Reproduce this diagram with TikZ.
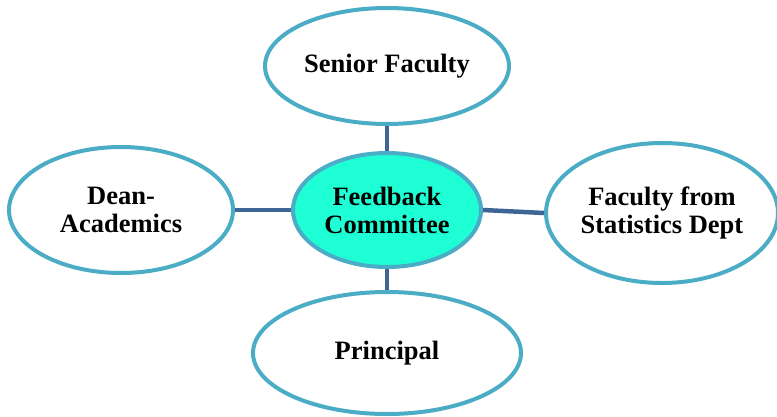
\documentclass[tikz,border=0pt]{standalone}
\usepackage{fontspec}
\setmainfont{Liberation Serif}
\usetikzlibrary{shapes.geometric}
\definecolor{rim}{HTML}{4BACC6}
\definecolor{link}{HTML}{3E6596}
\definecolor{aqua}{HTML}{1EFFD5}
\tikzset{
  bubble/.style={ellipse, draw=rim, line width=4pt, fill=white, inner sep=0pt, align=center,
    font=\bfseries\fontsize{26.5}{28}\selectfont},
  linkline/.style={draw=link, line width=4.5pt}
}
\begin{document}
\begin{tikzpicture}[x=1pt,y=-1pt]
\useasboundingbox (0,0) rectangle (777,416);
\node[bubble, minimum width=244pt, minimum height=116pt] (sf) at (387,66) {Senior Faculty};
\node[bubble, minimum width=224pt, minimum height=126pt] (da) at (121,210) {Dean-\\Academics};
\node[bubble, fill=aqua, minimum width=188pt, minimum height=114pt] (fc) at (387,210) {Feedback\\Committee};
\node[bubble, minimum width=232pt, minimum height=140pt] (fs) at (662,213) {Faculty from\\Statistics Dept};
\node[bubble, minimum width=268pt, minimum height=122pt] (pr) at (387,353) {Principal};
\draw[linkline] (sf.south) -- (fc.north);
\draw[linkline] (da.east) -- (fc.west);
\draw[linkline] (fc.east) -- (fs.west);
\draw[linkline] (fc.south) -- (pr.north);
\end{tikzpicture}
\end{document}
